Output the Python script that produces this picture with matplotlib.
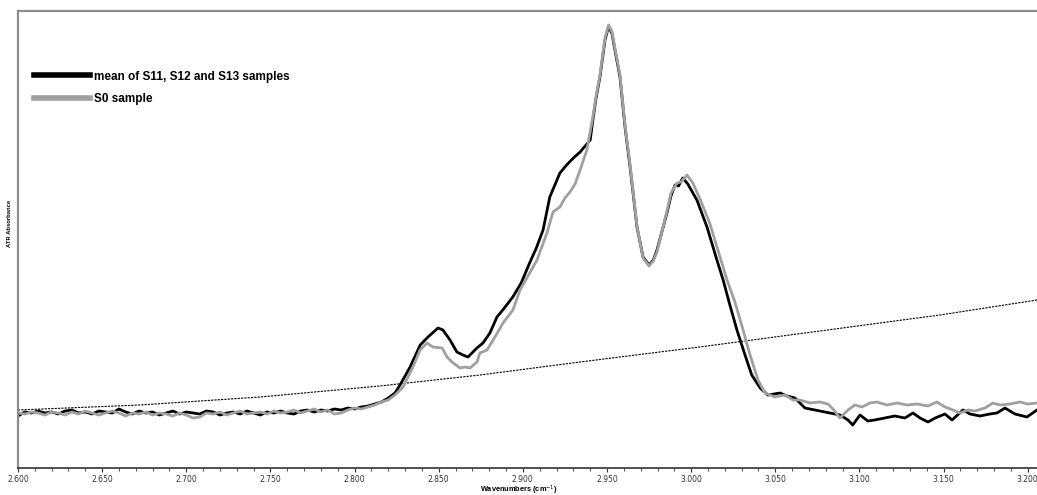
import matplotlib
matplotlib.use("Agg")
import matplotlib.pyplot as plt
from matplotlib.ticker import MultipleLocator, FuncFormatter

# Spectre moyen S11/S12/S13 (noir)
noir_x = [2600, 2604, 2608, 2612, 2616, 2620, 2624, 2628, 2632, 2636, 2640, 2644, 2648, 2652,
          2656, 2660, 2664, 2668, 2672, 2676, 2680, 2684, 2688, 2692, 2696, 2700, 2704, 2708,
          2712, 2716, 2720, 2724, 2728, 2732, 2736, 2740, 2744, 2748, 2752, 2756, 2760, 2764,
          2768, 2772, 2776, 2780, 2784, 2788, 2792, 2796, 2800, 2804, 2808, 2812, 2816, 2820,
          2824, 2827, 2833, 2839, 2843.6, 2849.6, 2852.5, 2856.7, 2860.8, 2864.4, 2867.4,
          2872.7, 2876.3, 2880.4, 2884.6, 2889, 2894, 2899, 2904, 2908, 2912, 2916, 2920,
          2922, 2926, 2930, 2934, 2937, 2940, 2941.6, 2943.5, 2945.8, 2948.8, 2951, 2953,
          2954.7, 2957.7, 2960.7, 2963.7, 2967.8, 2971.4, 2975, 2977.5, 2979.7, 2985.6, 2988,
          2990.4, 2992.5, 2995, 2998, 3003.4, 3009.4, 3015.3, 3019, 3023, 3027.2, 3032, 3036,
          3041, 3045.6, 3052.8, 3057, 3061.7, 3067.6, 3073.6, 3082.5, 3088.4, 3093.2, 3096,
          3100.3, 3105, 3109, 3115, 3121, 3127, 3131.8, 3136, 3140.7, 3145, 3150.8, 3155,
          3161.5, 3165.7, 3171.6, 3177.5, 3181.7, 3186.5, 3192.4, 3199.5, 3205.5]
noir_y = [.052, .056, .055, .057, .055, .056, .054, .057, .058, .055, .056, .054, .057, .056,
          .055, .059, .056, .054, .057, .055, .056, .053, .055, .057, .054, .056, .055, .054,
          .057, .056, .053, .055, .056, .054, .057, .055, .053, .056, .055, .057, .055, .054,
          .057, .058, .056, .058, .057, .059, .058, .060, .059, .061, .062, .064, .066, .070,
          .075, .083, .101, .123, .131, .140, .138, .128, .116, .113, .111,
          .120, .125, .135, .151, .160, .171, .185, .205, .220, .238, .271, .287,
          .295, .303, .310, .316, .322, .328, .348, .370, .391, .428, .442, .434,
          .418, .391, .341, .301, .241, .211, .203, .208, .218, .255, .272,
          .283, .282, .290, .284, .268, .241, .208, .188, .163, .138, .113, .093,
          .080, .073, .075, .072, .070, .060, .058, .055, .053, .048, .043,
          .053, .047, .048, .050, .052, .050, .055, .050, .046, .050, .054, .048,
          .058, .054, .052, .054, .055, .060, .054, .051, .058]

# Spectre S0 (gris)
gris_x = [2600, 2604, 2608, 2612, 2616, 2620, 2624, 2628, 2632, 2636, 2640, 2644, 2648, 2652,
          2656, 2660, 2664, 2668, 2672, 2676, 2680, 2684, 2688, 2692, 2696, 2700, 2704, 2708,
          2712, 2716, 2720, 2724, 2728, 2732, 2736, 2740, 2744, 2748, 2752, 2756, 2760, 2764,
          2768, 2772, 2776, 2780, 2784, 2788, 2792, 2796, 2800, 2804, 2808, 2812, 2816, 2820,
          2824, 2828.8, 2834.7, 2838.9, 2843, 2846.6, 2852, 2855, 2857.9, 2862.6, 2865.6,
          2868.6, 2872.7, 2874.5, 2878.7, 2883.4, 2888.2, 2894.1, 2898.3, 2903, 2908.4,
          2914.3, 2917.9, 2922, 2925, 2928, 2931, 2934, 2938, 2941.6, 2943.5, 2945.8, 2948.8,
          2951, 2953, 2954.7, 2957.7, 2960.7, 2963.7, 2967.8, 2971.4, 2975, 2977.5, 2979.7,
          2985.6, 2988, 2991.6, 2994, 2997.5, 3001, 3005, 3011, 3017, 3021.3, 3026, 3030,
          3035, 3039.7, 3043.9, 3049.8, 3055.7, 3060.5, 3064.6, 3070.6, 3076.5, 3081.3,
          3084.8, 3088.4, 3093.2, 3097.3, 3101.5, 3106.2, 3110.4, 3116.3, 3122.3, 3128.2,
          3134.2, 3140.7, 3146, 3150.8, 3155.6, 3159.7, 3164.5, 3168.6, 3174.6, 3179.3,
          3183.5, 3189.4, 3195.4, 3200, 3205.5]
gris_y = [.055, .054, .056, .055, .053, .056, .055, .053, .056, .054, .057, .055, .053, .055,
          .057, .055, .052, .055, .054, .056, .053, .055, .054, .052, .055, .053, .050, .051,
          .055, .054, .056, .053, .055, .057, .054, .055, .056, .054, .057, .055, .056, .058,
          .055, .057, .059, .056, .058, .054, .055, .058, .060, .059, .061, .063, .066, .068,
          .073, .081, .101, .118, .125, .121, .120, .111, .106, .100, .101,
          .100, .106, .115, .118, .131, .145, .158, .178, .192, .208,
          .235, .256, .261, .270, .276, .284, .298, .318, .351, .372, .393, .430,
          .443, .436, .420, .393, .343, .303, .242, .210, .202, .207, .216,
          .257, .275, .285, .286, .293, .285, .270, .245, .212, .188, .166, .143,
          .113, .088, .075, .071, .073, .068, .068, .065, .066, .064,
          .058, .050, .058, .063, .061, .065, .066, .063, .065, .063,
          .064, .062, .066, .061, .058, .055, .058, .057, .060, .065,
          .063, .064, .066, .064, .065]

# Ligne de base (pointillés)
base_x = [2600, 2672.5, 2743.8, 2815, 2874.5, 2934, 3005, 3076.5, 3147.8, 3205.5]
base_y = [.058, .063, .071, .082, .093, .106, .121, .137, .153, .168]

etiquette_noir = "mean of S11, S12 and S13 samples"
etiquette_gris = "S0 sample"

fig = plt.figure(figsize=(10.37, 4.95), dpi=100)
ax = fig.add_axes([18 / 1037, 27 / 495, 1 - 18 / 1037, 457 / 495])

ax.plot(base_x, base_y, color="black", linewidth=0.8, linestyle=(0, (2, 1)))
ax.plot(noir_x, noir_y, color="black", linewidth=2.0, label=etiquette_noir)
ax.plot(gris_x, gris_y, color="#a0a0a0", linewidth=2.0, label=etiquette_gris)

ax.set_xlim(2600, 3205.5)
ax.set_ylim(0, 0.457)

# Axes
ax.spines["right"].set_visible(False)
for cote in ["left", "top"]:
    ax.spines[cote].set_color("#8c8c8c")
    ax.spines[cote].set_linewidth(1.6)
ax.spines["bottom"].set_color("#333333")
ax.spines["bottom"].set_linewidth(1.2)

ax.yaxis.set_visible(False)
ax.xaxis.set_major_locator(MultipleLocator(50))
ax.xaxis.set_minor_locator(MultipleLocator(10))
ax.xaxis.set_major_formatter(FuncFormatter(lambda v, p: f"{int(v):,}".replace(",", ".")))
ax.tick_params(axis="x", which="major", length=3, width=0.8, labelsize=5.5,
               colors="#333333", pad=2)
ax.tick_params(axis="x", which="minor", length=2, width=0.6, colors="#333333")

fig.text(0.5, 1 - 490 / 495, "Wavenumbers (cm$^{-1}$)", ha="center", va="center",
         fontsize=5.3, fontweight="bold", family="Liberation Sans")
fig.text(10 / 1037, 1 - 223 / 495, "ATR Absorbance", ha="center", va="center", rotation=90,
         fontsize=4.2, fontweight="bold", family="Liberation Sans")

leg = ax.legend(loc="upper left", bbox_to_anchor=(0.005, 0.893), frameon=False,
                handlelength=4.8, handletextpad=0.3, labelspacing=0.9,
                prop={"family": "Liberation Sans", "size": 8.5, "weight": "bold"})
for ligne in leg.get_lines():
    ligne.set_linewidth(4)

fig.savefig("out.png", dpi=100)
